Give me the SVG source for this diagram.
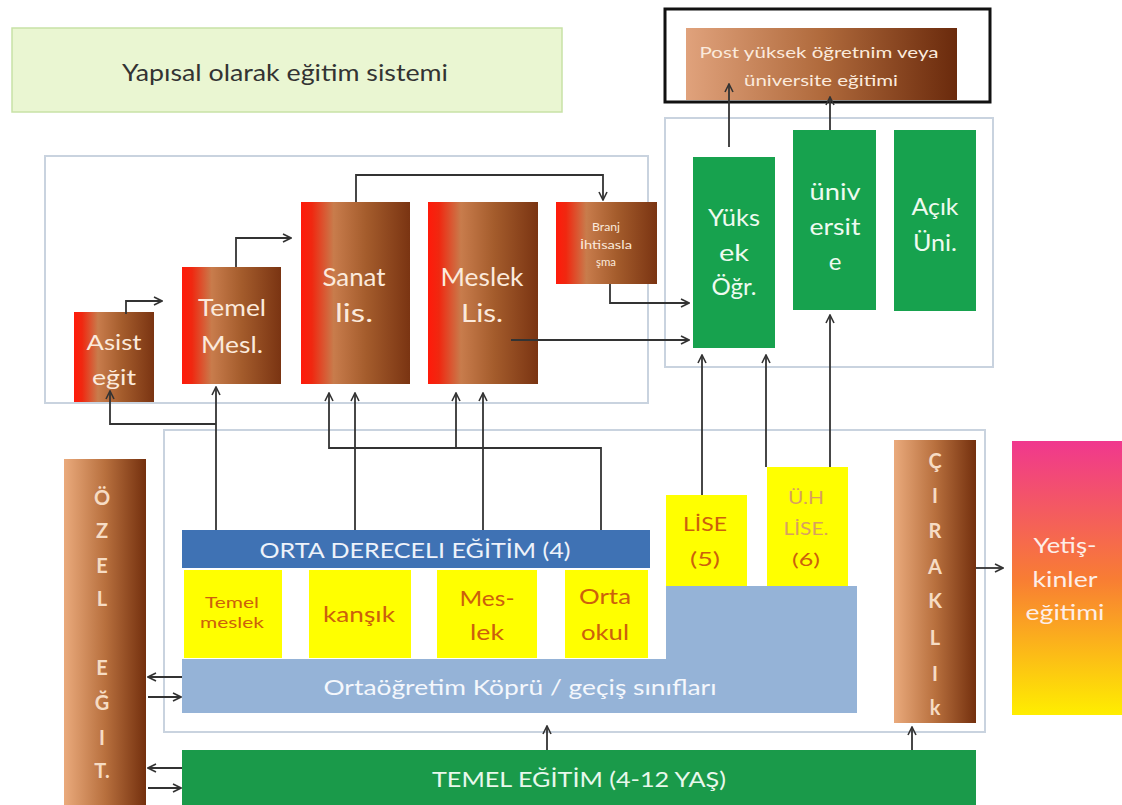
<svg xmlns="http://www.w3.org/2000/svg" width="1122" height="805" viewBox="0 0 1122 805">
<defs>
<linearGradient id="gRed" x1="0" y1="0" x2="1" y2="0">
<stop offset="0" stop-color="#ff1a0a"/><stop offset="0.1" stop-color="#f02810"/><stop offset="0.3" stop-color="#c87c4c"/><stop offset="0.6" stop-color="#a45c2c"/><stop offset="1" stop-color="#7a3412"/>
</linearGradient>
<linearGradient id="gTan" x1="0" y1="0" x2="1" y2="0">
<stop offset="0" stop-color="#eaaa7c"/><stop offset="0.5" stop-color="#b8703e"/><stop offset="1" stop-color="#74300e"/>
</linearGradient>
<linearGradient id="gPost" x1="0" y1="0" x2="1" y2="0">
<stop offset="0" stop-color="#e0a27c"/><stop offset="0.5" stop-color="#b06a3c"/><stop offset="1" stop-color="#6a2a0c"/>
</linearGradient>
<linearGradient id="gAdult" x1="0" y1="0" x2="0" y2="1">
<stop offset="0" stop-color="#f0388e"/><stop offset="0.5" stop-color="#f87c34"/><stop offset="1" stop-color="#ffee00"/>
</linearGradient>
<marker id="arr" viewBox="0 0 10 10" refX="9" refY="5" markerWidth="10" markerHeight="10" markerUnits="userSpaceOnUse" orient="auto">
<path d="M1,1 L9,5 L1,9" fill="none" stroke="#333" stroke-width="1.6"/>
</marker>
<style>
text{font-family:Lato,"Open Sans","Noto Sans",sans-serif;text-anchor:middle}
.cont{fill:none;stroke:#c9d3df;stroke-width:2}
.wt{fill:#fbeadc}
.gt{fill:#eefaf0}
.ot{fill:#cc600c}
.lt{fill:#f6dcc4;font-weight:bold}
.ca{fill:none;stroke:#333;stroke-width:1.8;marker-end:url(#arr)}
</style>
</defs>

<g id="title">
<rect x="12" y="28" width="550" height="84" fill="#eaf6d2" stroke="#c8e2a6" stroke-width="1.5"/>
<text x="285" y="81" font-size="23" fill="#333" textLength="326" lengthAdjust="spacingAndGlyphs">Yapısal olarak eğitim sistemi</text>
</g>

<g id="left-container"><rect class="cont" x="45" y="156" width="603" height="247"/></g>
<g id="right-container"><rect class="cont" x="665" y="118" width="328" height="249"/></g>
<g id="mid-container"><rect class="cont" x="164" y="430" width="821" height="302"/></g>

<g id="post">
<rect x="665" y="9" width="325" height="93" fill="none" stroke="#111" stroke-width="3"/>
<rect x="686" y="28" width="271" height="72" fill="url(#gPost)"/>
<text x="819" y="58" font-size="15" class="wt" textLength="239" lengthAdjust="spacingAndGlyphs">Post yüksek öğretnim veya</text>
<text x="821" y="86" font-size="15" class="wt" textLength="154" lengthAdjust="spacingAndGlyphs">üniversite eğitimi</text>
</g>

<g id="asist">
<rect x="74" y="312" width="80" height="90" fill="url(#gRed)"/>
<text x="114" y="350" font-size="22" class="wt" textLength="55" lengthAdjust="spacingAndGlyphs">Asist</text>
<text x="114" y="385" font-size="22" class="wt" textLength="44" lengthAdjust="spacingAndGlyphs">eğit</text>
</g>
<g id="temel-mesl">
<rect x="182" y="267" width="99" height="117" fill="url(#gRed)"/>
<text x="232" y="316" font-size="23" class="wt" textLength="68" lengthAdjust="spacingAndGlyphs">Temel</text>
<text x="232" y="353" font-size="23" class="wt" textLength="62" lengthAdjust="spacingAndGlyphs">Mesl.</text>
</g>
<g id="sanat">
<rect x="301" y="202" width="109" height="182" fill="url(#gRed)"/>
<text x="354" y="286" font-size="25" class="wt" textLength="63" lengthAdjust="spacingAndGlyphs">Sanat</text>
<text x="354" y="322" font-size="25" class="wt" textLength="38" lengthAdjust="spacingAndGlyphs">lis.</text>
</g>
<g id="meslek">
<rect x="428" y="202" width="110" height="182" fill="url(#gRed)"/>
<text x="482" y="286" font-size="25" class="wt" textLength="83" lengthAdjust="spacingAndGlyphs">Meslek</text>
<text x="482" y="322" font-size="25" class="wt" textLength="42" lengthAdjust="spacingAndGlyphs">Lis.</text>
</g>
<g id="branj">
<rect x="556" y="202" width="101" height="82" fill="url(#gRed)"/>
<text x="606" y="231" font-size="12" class="wt" textLength="28" lengthAdjust="spacingAndGlyphs">Branj</text>
<text x="606" y="249" font-size="12" class="wt" textLength="52" lengthAdjust="spacingAndGlyphs">İhtisasla</text>
<text x="606" y="266" font-size="12" class="wt" textLength="20" lengthAdjust="spacingAndGlyphs">şma</text>
</g>

<g id="yuksek">
<rect x="693" y="157" width="82" height="191" fill="#17a24e"/>
<text x="734" y="226" font-size="24" class="gt" textLength="52" lengthAdjust="spacingAndGlyphs">Yüks</text>
<text x="734" y="261" font-size="24" class="gt" textLength="30" lengthAdjust="spacingAndGlyphs">ek</text>
<text x="734" y="295" font-size="24" class="gt" textLength="45" lengthAdjust="spacingAndGlyphs">Öğr.</text>
</g>
<g id="universite">
<rect x="793" y="130" width="83" height="180" fill="#17a24e"/>
<text x="835" y="200" font-size="24" class="gt" textLength="51" lengthAdjust="spacingAndGlyphs">üniv</text>
<text x="835" y="235" font-size="24" class="gt" textLength="51" lengthAdjust="spacingAndGlyphs">ersit</text>
<text x="835" y="270" font-size="24" class="gt">e</text>
</g>
<g id="acik">
<rect x="894" y="130" width="82" height="181" fill="#17a24e"/>
<text x="935" y="215" font-size="24" class="gt" textLength="47" lengthAdjust="spacingAndGlyphs">Açık</text>
<text x="935" y="251" font-size="24" class="gt" textLength="44" lengthAdjust="spacingAndGlyphs">Üni.</text>
</g>

<g id="ozel">
<rect x="64" y="459" width="82" height="346" fill="url(#gTan)"/>
<g font-size="20">
<text x="102" y="505" class="lt">Ö</text>
<text x="102" y="538" class="lt">Z</text>
<text x="102" y="573" class="lt">E</text>
<text x="102" y="606" class="lt">L</text>
<text x="102" y="675" class="lt">E</text>
<text x="102" y="710" class="lt">Ğ</text>
<text x="102" y="745" class="lt">I</text>
<text x="102" y="778" class="lt">T.</text>
</g>
</g>

<g id="orta-dereceli">
<rect x="182" y="530" width="468" height="38" fill="#3f72b4"/>
<text x="415" y="558" font-size="22" fill="#eef2fa" textLength="311" lengthAdjust="spacingAndGlyphs">ORTA DERECELI EĞİTİM (4)</text>
</g>
<g id="temel-meslek">
<rect x="184" y="570" width="98" height="88" fill="#ffff00"/>
<text x="232" y="608" font-size="16" class="ot" textLength="54" lengthAdjust="spacingAndGlyphs">Temel</text>
<text x="232" y="628" font-size="16" class="ot" textLength="64" lengthAdjust="spacingAndGlyphs">meslek</text>
</g>
<g id="karisik">
<rect x="309" y="570" width="102" height="88" fill="#ffff00"/>
<text x="359" y="622" font-size="22" class="ot" textLength="72" lengthAdjust="spacingAndGlyphs">kanşık</text>
</g>
<g id="mes-lek">
<rect x="437" y="570" width="100" height="88" fill="#ffff00"/>
<text x="487" y="606" font-size="22" class="ot" textLength="55" lengthAdjust="spacingAndGlyphs">Mes-</text>
<text x="487" y="640" font-size="22" class="ot" textLength="34" lengthAdjust="spacingAndGlyphs">lek</text>
</g>
<g id="orta-okul">
<rect x="565" y="570" width="83" height="88" fill="#ffff00"/>
<text x="605" y="604" font-size="22" class="ot" textLength="52" lengthAdjust="spacingAndGlyphs">Orta</text>
<text x="605" y="640" font-size="22" class="ot" textLength="48" lengthAdjust="spacingAndGlyphs">okul</text>
</g>
<g id="kopru">
<rect x="666" y="586" width="191" height="74" fill="#95b3d7"/>
<rect x="182" y="659" width="675" height="54" fill="#95b3d7"/>
<text x="520" y="695" font-size="22" fill="#f4f7fc" textLength="393" lengthAdjust="spacingAndGlyphs">Ortaöğretim Köprü / geçiş sınıfları</text>
</g>
<g id="lise">
<rect x="666" y="495" width="81" height="91" fill="#ffff00"/>
<text x="705" y="531" font-size="20" class="ot" textLength="44" lengthAdjust="spacingAndGlyphs">LİSE</text>
<text x="705" y="566" font-size="20" class="ot" textLength="30" lengthAdjust="spacingAndGlyphs">(5)</text>
</g>
<g id="uh-lise">
<rect x="767" y="467" width="81" height="119" fill="#ffff00"/>
<text x="806" y="504" font-size="18" fill="#d8a060" textLength="36" lengthAdjust="spacingAndGlyphs">Ü.H</text>
<text x="806" y="535" font-size="18" fill="#d8a060" textLength="45" lengthAdjust="spacingAndGlyphs">LİSE.</text>
<text x="806" y="566" font-size="18" class="ot" textLength="28" lengthAdjust="spacingAndGlyphs">(6)</text>
</g>

<g id="ciraklik">
<rect x="894" y="440" width="82" height="283" fill="url(#gTan)"/>
<g font-size="20">
<text x="935" y="468" class="lt">Ç</text>
<text x="935" y="503" class="lt">I</text>
<text x="935" y="538" class="lt">R</text>
<text x="935" y="574" class="lt">A</text>
<text x="935" y="608" class="lt">K</text>
<text x="935" y="645" class="lt">L</text>
<text x="935" y="681" class="lt">I</text>
<text x="935" y="715" class="lt">k</text>
</g>
</g>

<g id="yetiskinler">
<rect x="1012" y="441" width="110" height="274" fill="url(#gAdult)"/>
<text x="1065" y="553" font-size="22" fill="#fdeee8" textLength="63" lengthAdjust="spacingAndGlyphs">Yetiş-</text>
<text x="1065" y="587" font-size="22" fill="#fdeee8" textLength="65" lengthAdjust="spacingAndGlyphs">kinler</text>
<text x="1065" y="620" font-size="22" fill="#fdeee8" textLength="79" lengthAdjust="spacingAndGlyphs">eğitimi</text>
</g>

<g id="temel-egitim">
<rect x="182" y="750" width="794" height="55" fill="#1a9a4a"/>
<text x="579" y="787" font-size="22" fill="#e8f8ec" textLength="294" lengthAdjust="spacingAndGlyphs">TEMEL EĞİTİM (4-12 YAŞ)</text>
</g>

<g id="connectors">
<polyline class="ca" points="126,314 126,301 162,301"/>
<polyline class="ca" points="236,267 236,238 291,238"/>
<polyline class="ca" points="356,202 356,175 603,175 603,200"/>
<polyline class="ca" points="610,284 610,303 689,303"/>
<polyline class="ca" points="511,340 689,340"/>
<polyline class="ca" points="729,147 729,84"/>
<polyline class="ca" points="830,130 830,97"/>
<polyline class="ca" points="216,530 216,387"/>
<polyline class="ca" points="216,424 110,424 110,391"/>
<polyline class="ca" points="355,530 355,393"/>
<polyline class="ca" points="483,530 483,393"/>
<polyline class="ca" points="601,530 601,448 329,448 329,393"/>
<polyline class="ca" points="456,448 456,393"/>
<polyline class="ca" points="702,495 702,355"/>
<polyline class="ca" points="766,467 766,355"/>
<polyline class="ca" points="830,467 830,315"/>
<polyline class="ca" points="976,568 1003,568"/>
<polyline class="ca" points="547,750 547,726"/>
<polyline class="ca" points="912,750 912,727"/>
<polyline class="ca" points="182,677 148,677"/>
<polyline class="ca" points="148,697 181,697"/>
<polyline class="ca" points="182,768 148,768"/>
<polyline class="ca" points="148,788 181,788"/>
</g>
</svg>
